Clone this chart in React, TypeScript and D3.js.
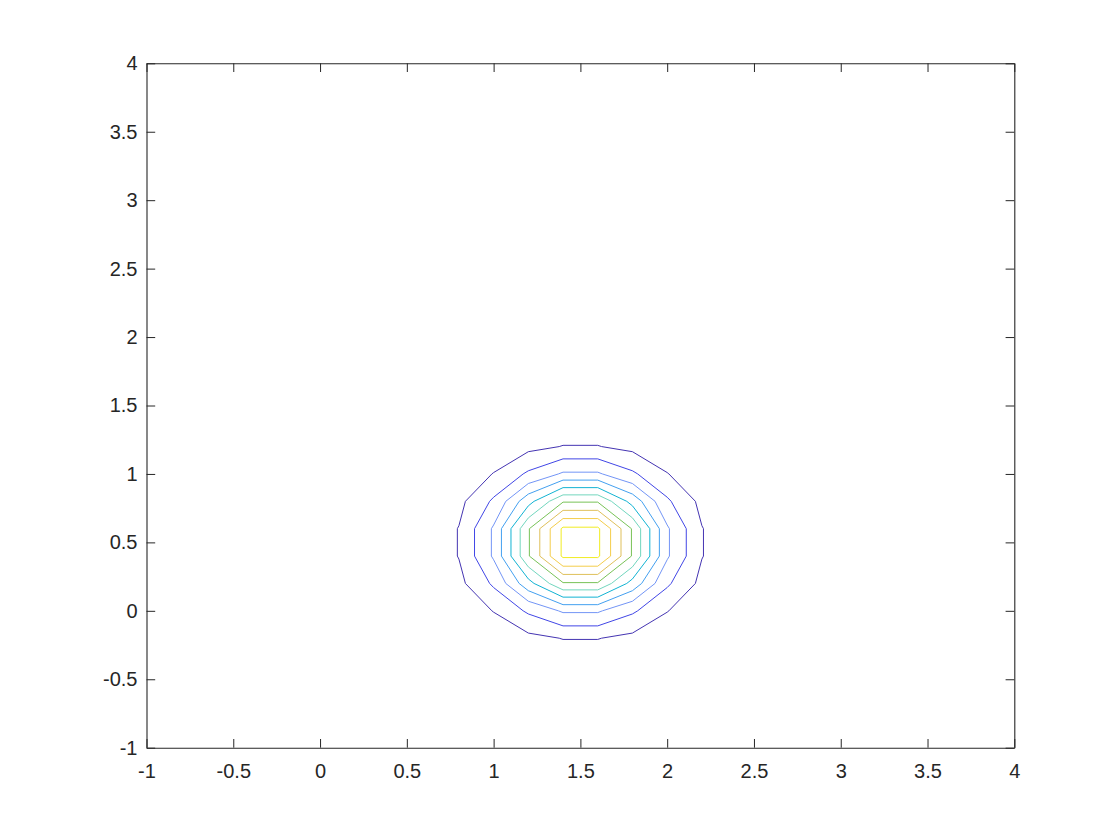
import * as d3 from "d3";
import { useRef, useEffect } from "react";

// contour polygons, data coords, outermost first
const contour1 = [
  [1.6, 1.209], [1.622, 1.2], [1.8, 1.1625], [2.0, 1.01], [2.01, 1.0], [2.1625, 0.8], [2.2, 0.622], [2.209, 0.6],
  [2.209, 0.4], [2.2, 0.378], [2.1625, 0.2], [2.01, 0.0], [2.0, -0.01], [1.8, -0.1625], [1.622, -0.2], [1.6, -0.209],
  [1.4, -0.209], [1.378, -0.2], [1.2, -0.1625], [1.0, -0.01], [0.99, 0.0], [0.8375, 0.2], [0.8, 0.378], [0.791, 0.4],
  [0.791, 0.6], [0.8, 0.622], [0.8375, 0.8], [0.99, 1.0], [1.0, 1.01], [1.2, 1.1625], [1.378, 1.2], [1.4, 1.209],
];
const contour2 = [
  [1.6, 1.11], [1.8, 1.023], [1.83, 1.0], [2.0, 0.83], [2.023, 0.8], [2.11, 0.6],
  [2.11, 0.4], [2.023, 0.2], [2.0, 0.17], [1.83, 0.0], [1.8, -0.023], [1.6, -0.11],
  [1.4, -0.11], [1.2, -0.023], [1.17, 0.0], [1.0, 0.17], [0.977, 0.2], [0.89, 0.4],
  [0.89, 0.6], [0.977, 0.8], [1.0, 0.83], [1.17, 1.0], [1.2, 1.023], [1.4, 1.11],
];
const contour3 = [
  [1.6, 1.013], [1.627, 1.0], [1.8, 0.93], [1.93, 0.8], [2.0, 0.627], [2.013, 0.6],
  [2.013, 0.4], [2.0, 0.373], [1.93, 0.2], [1.8, 0.07], [1.627, 0.0], [1.6, -0.013],
  [1.4, -0.013], [1.373, 0.0], [1.2, 0.07], [1.07, 0.2], [1.0, 0.373], [0.987, 0.4],
  [0.987, 0.6], [1.0, 0.627], [1.07, 0.8], [1.2, 0.93], [1.373, 1.0], [1.4, 1.013],
];
const contour4 = [
  [1.6, 0.955], [1.8, 0.853], [1.853, 0.8], [1.955, 0.6],
  [1.955, 0.4], [1.853, 0.2], [1.8, 0.147], [1.6, 0.045],
  [1.4, 0.045], [1.2, 0.147], [1.147, 0.2], [1.045, 0.4],
  [1.045, 0.6], [1.147, 0.8], [1.2, 0.853], [1.4, 0.955],
];
const contour5 = [
  [1.6, 0.9], [1.767, 0.8], [1.8, 0.767], [1.9, 0.6],
  [1.9, 0.4], [1.8, 0.233], [1.767, 0.2], [1.6, 0.1],
  [1.4, 0.1], [1.233, 0.2], [1.2, 0.233], [1.1, 0.4],
  [1.1, 0.6], [1.2, 0.767], [1.233, 0.8], [1.4, 0.9],
];
const contour6 = [
  [1.6, 0.847], [1.679, 0.8], [1.8, 0.679], [1.847, 0.6],
  [1.847, 0.4], [1.8, 0.321], [1.679, 0.2], [1.6, 0.153],
  [1.4, 0.153], [1.321, 0.2], [1.2, 0.321], [1.153, 0.4],
  [1.153, 0.6], [1.2, 0.679], [1.321, 0.8], [1.4, 0.847],
];
const contour7 = [[1.6, 0.794], [1.794, 0.6], [1.794, 0.4], [1.6, 0.206], [1.4, 0.206], [1.206, 0.4], [1.206, 0.6], [1.4, 0.794]];
const contour8 = [[1.6, 0.734], [1.734, 0.6], [1.734, 0.4], [1.6, 0.266], [1.4, 0.266], [1.266, 0.4], [1.266, 0.6], [1.4, 0.734]];
const contour9 = [[1.6, 0.674], [1.674, 0.6], [1.674, 0.4], [1.6, 0.326], [1.4, 0.326], [1.326, 0.4], [1.326, 0.6], [1.4, 0.674]];
const contour10 = [[1.6, 0.611], [1.611, 0.6], [1.611, 0.4], [1.6, 0.389], [1.4, 0.389], [1.389, 0.4], [1.389, 0.6], [1.4, 0.611]];

const contours = [contour1, contour2, contour3, contour4, contour5, contour6, contour7, contour8, contour9, contour10];

// parula-ish colours, outer (low) to inner (high)
const levelColors = [
  "#4434b2", "#4146e6", "#7395f6", "#43a0f0", "#12b3d3",
  "#72d6be", "#78c257", "#dfc05a", "#f4cd4a", "#f1ec22",
];

const xTicks = [-1, -0.5, 0, 0.5, 1, 1.5, 2, 2.5, 3, 3.5, 4];
const yTicks = [-1, -0.5, 0, 0.5, 1, 1.5, 2, 2.5, 3, 3.5, 4];
const tickLabels = ["-1", "-0.5", "0", "0.5", "1", "1.5", "2", "2.5", "3", "3.5", "4"];

export default function App() {
  const svgRef = useRef(null);
  const width = 1120;
  const height = 840;
  const left = 146.5, right = 1014.3, top = 63.3, bottom = 747.7;
  const tickLen = 8.7;
  const font = "'Liberation Sans', Arial, Helvetica, sans-serif";
  const ink = "#262626";

  useEffect(() => {
    const svg = d3.select(svgRef.current);
    svg.selectAll("*").remove();

    const x = d3.scaleLinear().domain([-1, 4]).range([left, right]);
    const y = d3.scaleLinear().domain([-1, 4]).range([bottom, top]);
    const fmt = (d) => tickLabels[xTicks.indexOf(d)];

    const line = d3.line()
      .x((d) => x(d[0]))
      .y((d) => y(d[1]))
      .curve(d3.curveLinearClosed);

    svg.append("g")
      .selectAll("path")
      .data(contours)
      .join("path")
      .attr("d", (d) => line(d))
      .attr("fill", "none")
      .attr("stroke", (d, i) => levelColors[i])
      .attr("stroke-width", 1)
      .attr("stroke-linejoin", "round");

    const styleAxis = (g) => {
      g.selectAll(".domain").attr("stroke", ink).attr("stroke-width", 1.1);
      g.selectAll(".tick line").attr("stroke", ink).attr("stroke-width", 1);
      g.selectAll("text").attr("fill", ink).style("font-family", font).style("font-size", "20px");
    };

    svg.append("g")
      .attr("transform", `translate(0,${bottom})`)
      .call(d3.axisBottom(x).tickValues(xTicks).tickSize(-tickLen).tickSizeOuter(0).tickPadding(16.5).tickFormat(fmt))
      .call(styleAxis);

    svg.append("g")
      .attr("transform", `translate(${left},0)`)
      .call(d3.axisLeft(y).tickValues(yTicks).tickSize(-tickLen).tickSizeOuter(0).tickPadding(9).tickFormat(fmt))
      .call(styleAxis);

    svg.append("g")
      .attr("transform", `translate(0,${top})`)
      .call(d3.axisTop(x).tickValues(xTicks).tickSize(-tickLen).tickSizeOuter(0).tickFormat(() => ""))
      .call(styleAxis);

    svg.append("g")
      .attr("transform", `translate(${right},0)`)
      .call(d3.axisRight(y).tickValues(yTicks).tickSize(-tickLen).tickSizeOuter(0).tickFormat(() => ""))
      .call(styleAxis);
  }, []);

  return (
    <svg
      ref={svgRef}
      width={width}
      height={height}
      style={{ position: "absolute", left: 0, top: 0, background: "#fff", display: "block" }}
    />
  );
}
